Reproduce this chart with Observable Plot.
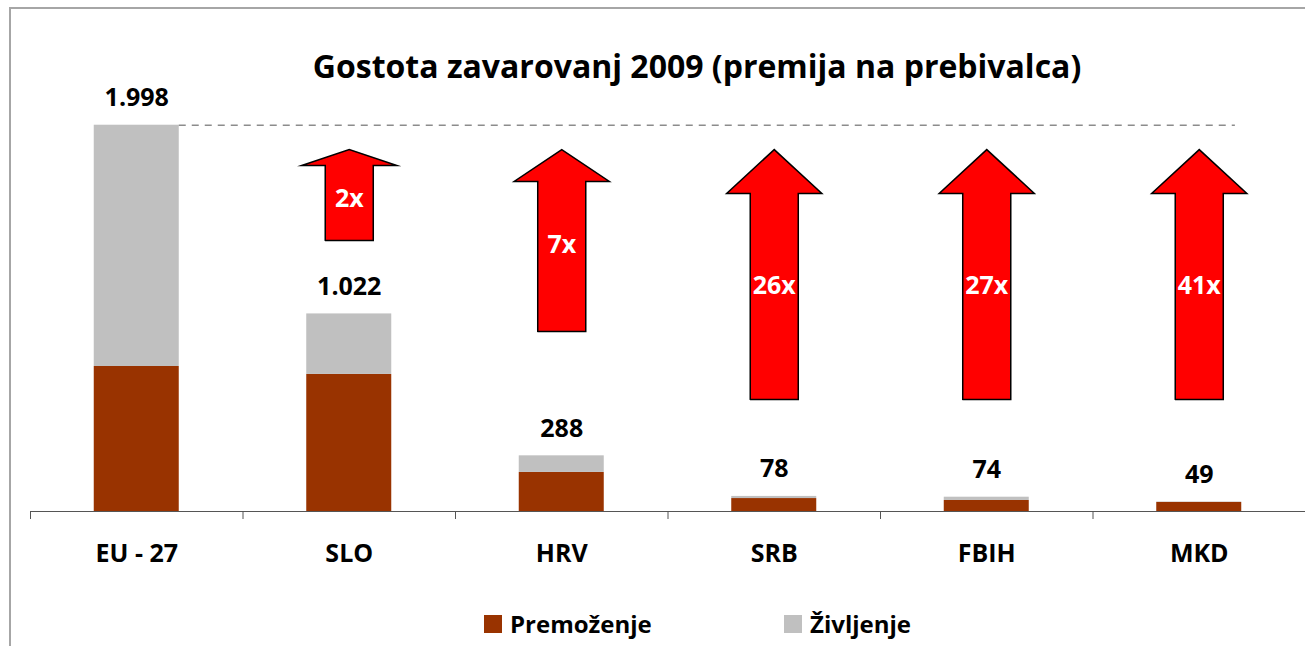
<!DOCTYPE html>
<html>
<head>
<meta charset="utf-8">
<script src="https://cdn.jsdelivr.net/npm/d3@7"></script>
<script src="https://cdn.jsdelivr.net/npm/@observablehq/plot@0.6"></script>
<style>
  body { margin: 0; background: #fff; font-family: "Open Sans", sans-serif; }
  #wrap { position: relative; width: 1305px; height: 646px; overflow: hidden; background: #fff; }
  #frame { position: absolute; left: 9px; top: 7px; width: 1400px; height: 700px; border-top: 2px solid #a6a6a6; border-left: 2px solid #a6a6a6; }
  #title { position: absolute; left: 197px; width: 1000px; top: 50px; text-align: center; font-size: 32px; line-height: 32px; font-weight: bold; color: #000; white-space: nowrap; }
  #chart { position: absolute; left: 0; top: 80px; }
  .leg { position: absolute; top: 607px; height: 34px; display: flex; align-items: center; font-size: 24px; line-height: 34px; font-weight: bold; color: #000; white-space: nowrap; }
  .sw { width: 18px; height: 18px; margin-right: 8px; }
</style>
</head>
<body>
<div id="wrap">
  <div id="frame"></div>
  <div id="title">Gostota zavarovanj 2009 (premija na prebivalca)</div>
  <div id="chart"></div>
  <div id="legend"></div>
</div>
<script>
// ---- data ----
const categories = ["EU - 27", "SLO", "HRV", "SRB", "FBIH", "MKD"];
const premozenje = [750, 709, 202, 67, 57, 47];
const zivljenje = [1248, 313, 86, 11, 17, 2];
const totals = [1998, 1022, 288, 78, 74, 49];
const totalLabels = ["1.998", "1.022", "288", "78", "74", "49"];
const series = ["Premoženje", "Življenje"];
const seriesColors = ["#993300", "#C0C0C0"];

const arrowCats = ["SLO", "HRV", "SRB", "FBIH", "MKD"];
const arrowLabels = ["2x", "7x", "26x", "27x", "41x"];
const arrowTips = [1872, 1872, 1872, 1872, 1872];
const arrowHeadBases = [1790, 1707, 1645, 1645, 1645];
const arrowBottoms = [1402, 931, 579, 579, 579];
const arrowLabelY = [1614, 1381, 1164, 1164, 1164];

// ---- derived tables ----
const barHalf = 0.2;
const bars = [];
categories.forEach((c, i) => {
  bars.push({i, series: series[0], y1: 0, y2: premozenje[i]});
  bars.push({i, series: series[1], y1: premozenje[i], y2: premozenje[i] + zivljenje[i]});
});

const shaftHalf = 0.113, headHalf = 0.224;
const arrowPts = [];
const arrowText = [];
arrowCats.forEach((c, k) => {
  const ci = categories.indexOf(c);
  const b = arrowBottoms[k], h = arrowHeadBases[k], t = arrowTips[k];
  const poly = [
    [ci - shaftHalf, b], [ci - shaftHalf, h], [ci - headHalf, h], [ci, t],
    [ci + headHalf, h], [ci + shaftHalf, h], [ci + shaftHalf, b], [ci - shaftHalf, b]
  ];
  poly.forEach(([x, y]) => arrowPts.push({id: k, x, y}));
  arrowText.push({x: ci, y: arrowLabelY[k], text: arrowLabels[k]});
});

const labels = categories.map((c, i) => ({i, y: totals[i], text: totalLabels[i]}));
const boundaries = d3.range(categories.length + 1).map(i => i - 0.5);
const centers = d3.range(categories.length);

const chart = Plot.plot({
  width: 1305,
  height: 500,
  marginTop: 25,
  marginBottom: 69,
  marginLeft: 30,
  marginRight: 0,
  style: {fontFamily: "Open Sans, sans-serif", color: "#000", background: "transparent", overflow: "visible"},
  x: {domain: [-0.5, categories.length - 0.5], label: null},
  y: {domain: [0, 2100], axis: null},
  color: {domain: series, range: seriesColors},
  marks: [
    Plot.rectY(bars, {x1: d => d.i - barHalf, x2: d => d.i + barHalf, y1: "y1", y2: "y2", fill: "series"}),
    Plot.ruleY([totals[0]], {x1: 0 + barHalf, x2: 5 + 0.17, stroke: "#8c8c8c", strokeWidth: 1.5, strokeDasharray: "7,6"}),
    Plot.line(arrowPts, {x: "x", y: "y", z: "id", fill: "#FF0000", stroke: "#000", strokeWidth: 1.5, strokeLinejoin: "miter", strokeMiterlimit: 10, curve: "linear"}),
    Plot.text(arrowText, {x: "x", y: "y", text: "text", fill: "#fff", fontSize: 25, fontWeight: "bold"}),
    Plot.text(labels, {x: "i", y: "y", text: "text", lineAnchor: "bottom", dy: -19, fill: "#000", fontSize: 25, fontWeight: "bold"}),
    Plot.ruleY([0], {stroke: "#555", strokeWidth: 1}),
    Plot.axisX(boundaries, {tickSize: 8, tickFormat: () => "", stroke: "#555", label: null}),
    Plot.axisX(centers, {tickSize: 0, tickPadding: 33, tickFormat: i => categories[i], fontSize: 25, fontWeight: "bold", fill: "#000", label: null})
  ]
});
document.getElementById("chart").appendChild(chart);

// legend
const legend = document.getElementById("legend");
const legLeft = [484, 784];
series.forEach((s, k) => {
  const item = document.createElement("div");
  item.className = "leg";
  item.style.left = legLeft[k] + "px";
  const sw = document.createElement("div");
  sw.className = "sw";
  sw.style.background = seriesColors[k];
  const tx = document.createElement("span");
  tx.textContent = s;
  item.appendChild(sw);
  item.appendChild(tx);
  legend.appendChild(item);
});
</script>
</body>
</html>
